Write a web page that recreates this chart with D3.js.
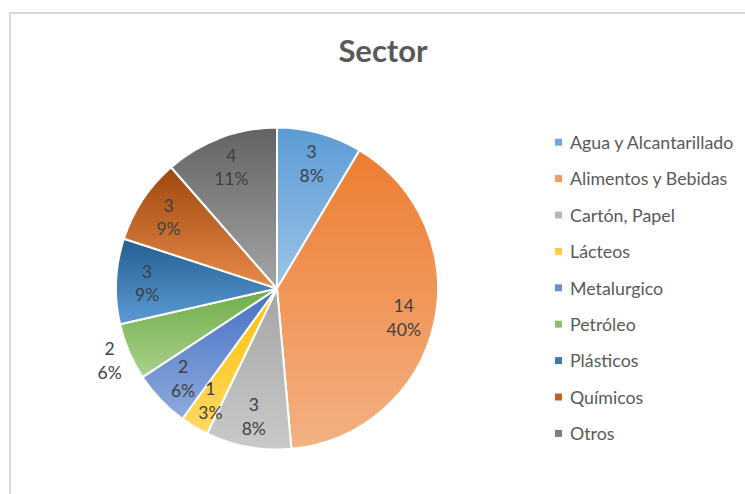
<!DOCTYPE html>
<html>
<head>
<meta charset="utf-8">
<script src="https://cdn.jsdelivr.net/npm/d3@7"></script>
<style>
  html, body { margin: 0; padding: 0; background: #fff; }
  svg text { font-family: Lato, "Open Sans", sans-serif; }
</style>
</head>
<body>
<div id="chart"></div>
<script>
"use strict";
(function(){
    // data
    const sectors = ["Agua y Alcantarillado", "Alimentos y Bebidas", "Cartón, Papel", "Lácteos",
        "Metalurgico", "Petróleo", "Plásticos", "Químicos", "Otros"]
    const counts = [3, 14, 3, 1, 2, 2, 3, 3, 4]
    // Excel's rounded percentages (they add up to 100)
    const pctLabels = ["8%", "40%", "8%", "3%", "6%", "6%", "9%", "9%", "11%"]
    // labels that Excel put outside the pie
    const outsideLabels = ["Petróleo"]

    // gradient colours, top of slice -> bottom of slice
    const topColors = ["#5B9BD5", "#ED7D31", "#A5A5A5", "#FFC000", "#4472C4", "#70AD47", "#255E91", "#9E480E", "#636363"]
    const bottomColors = ["#9DC3E6", "#F4B183", "#C9C9C9", "#FFD966", "#8FAADC", "#A9D18E", "#5B9BD5", "#E98A4B", "#A5A5A5"]
    const legendColors = ["#6FA8DC", "#F09A63", "#B7B7B7", "#FFCC40", "#6A8FD0", "#8DC06A", "#3E78B2", "#C3621F", "#7F7F7F"]

    const measurements = { width: 745, height: 494 }
    const pieCenter = { x: 277, y: 288.5 }
    const radius = 161

    const svg = d3.select("#chart").append("svg")
        .attr("width", measurements.width)
        .attr("height", measurements.height)

    // chart area border (runs off the right and bottom edge)
    svg.append("path")
        .attr("d", "M10,494 L10,13 L745,13")
        .attr("fill", "none")
        .attr("stroke", "#D9D9D9")
        .attr("stroke-width", 2)

    svg.append("text")
        .attr("x", 383)
        .attr("y", 62)
        .attr("text-anchor", "middle")
        .attr("font-size", 31)
        .attr("font-weight", "bold")
        .attr("fill", "#595959")
        .text("Sector")

    const defs = svg.append("defs")
    sectors.forEach(function(s, i) {
        const g = defs.append("linearGradient")
            .attr("id", "grad" + i)
            .attr("x1", 0).attr("y1", 0).attr("x2", 0).attr("y2", 1)
        g.append("stop").attr("offset", "0%").attr("stop-color", topColors[i])
        g.append("stop").attr("offset", "100%").attr("stop-color", bottomColors[i])
    })

    const pie = d3.pie().sort(null).value(function(d) { return d })
    const arcs = pie(counts)
    const arc = d3.arc().innerRadius(0).outerRadius(radius)
    const labelArc = d3.arc().innerRadius(130).outerRadius(130)
    const outerLabelArc = d3.arc().innerRadius(182).outerRadius(182)

    const pieG = svg.append("g")
        .attr("transform", "translate(" + pieCenter.x + "," + pieCenter.y + ")")

    pieG.selectAll(".slice")
        .data(arcs)
        .enter()
        .append("path")
            .attr("class", "slice")
            .attr("d", arc)
            .attr("fill", function(d, i) { return "url(#grad" + i + ")" })
            .attr("stroke", "#fff")
            .attr("stroke-width", 2)
            .attr("stroke-linejoin", "round")

    const labels = pieG.selectAll(".label")
        .data(arcs)
        .enter()
        .append("text")
            .attr("class", "label")
            .attr("transform", function(d, i) {
                const c = outsideLabels.indexOf(sectors[i]) >= 0 ? outerLabelArc.centroid(d) : labelArc.centroid(d)
                return "translate(" + c[0] + "," + c[1] + ")"
            })
            .attr("text-anchor", "middle")
            .attr("font-size", 17.5)
            .attr("fill", "#404040")
    labels.append("tspan")
        .attr("x", 0).attr("y", -5)
        .text(function(d) { return d.data })
    labels.append("tspan")
        .attr("x", 0).attr("y", 18.5)
        .text(function(d, i) { return pctLabels[i] })

    // legend
    const legend = svg.selectAll(".legend")
        .data(sectors)
        .enter().append("g")
        .attr("class", "legend")
        .attr("transform", function(d, i) { return "translate(555," + (142.7 + i * 36.4) + ")" })

    legend.append("rect")
        .attr("x", 0)
        .attr("y", -4)
        .attr("width", 7)
        .attr("height", 7)
        .attr("fill", function(d, i) { return legendColors[i] })

    legend.append("text")
        .attr("x", 15)
        .attr("y", 0)
        .attr("dy", "0.35em")
        .attr("font-size", 17.8)
        .attr("fill", "#595959")
        .text(function(d) { return d })
})()
</script>
</body>
</html>
